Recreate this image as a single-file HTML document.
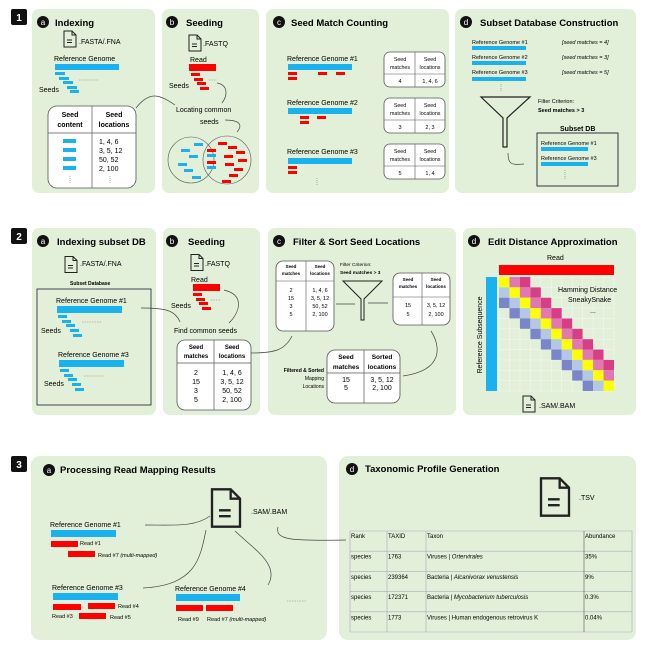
<!DOCTYPE html>
<html><head><meta charset="utf-8"><style>
html,body{margin:0;padding:0;background:#fff}
svg{display:block;font-family:"Liberation Sans",sans-serif}
.t{font-weight:bold;font-size:9.5px}
.s{font-size:7px}
.xs{font-size:5px}
.pn{fill:#e2efd9}
.bl{fill:#1ab2ee}
.rd{fill:#ff0000}
.ln{fill:none;stroke:#444;stroke-width:0.7}
.tb{fill:#fff;stroke:#555;stroke-width:0.8}
</style></head><body>
<svg id="fig" width="646" height="656" viewBox="0 0 646 656">
<defs>
<symbol id="doc" viewBox="0 0 14 18"><path d="M1,1 H9 L13,5 V17 H1 Z M9,1 V5 H13" fill="none" stroke="#222" stroke-width="1"/><path d="M4,10 H9 M4,12.5 H9" stroke="#222" stroke-width="1"/></symbol>
<symbol id="badge" viewBox="0 0 12 12"><circle cx="6" cy="6" r="6" fill="#111"/></symbol>
</defs>

<!-- step labels -->
<g><rect x="11" y="9" width="16" height="16" rx="2" fill="#111"/><text x="19" y="21" fill="#fff" font-size="10" font-weight="bold" text-anchor="middle">1</text></g>
<g><rect x="11" y="228" width="16" height="16" rx="2" fill="#111"/><text x="19" y="240" fill="#fff" font-size="10" font-weight="bold" text-anchor="middle">2</text></g>
<g><rect x="11" y="456" width="16" height="16" rx="2" fill="#111"/><text x="19" y="468" fill="#fff" font-size="10" font-weight="bold" text-anchor="middle">3</text></g>

<!-- panels -->
<rect class="pn" x="32" y="9" width="123" height="184" rx="7"/>
<rect class="pn" x="162" y="9" width="97" height="184" rx="7"/>
<rect class="pn" x="266" y="9" width="183" height="184" rx="7"/>
<rect class="pn" x="455" y="9" width="181" height="184" rx="7"/>
<rect class="pn" x="32" y="228" width="124" height="187" rx="7"/>
<rect class="pn" x="163" y="228" width="97" height="187" rx="7"/>
<rect class="pn" x="268" y="228" width="188" height="187" rx="7"/>
<rect class="pn" x="463" y="228" width="173" height="187" rx="7"/>
<rect class="pn" x="31" y="456" width="296" height="184" rx="9"/>
<rect class="pn" x="339" y="456" width="297" height="184" rx="9"/>

<!-- ===== 1a ===== -->
<circle cx="43" cy="22" r="6" fill="#111"/><text x="43" y="25" fill="#fff" font-size="8" text-anchor="middle">a</text>
<text class="t" x="55" y="26">Indexing</text>
<use href="#doc" x="63" y="30" width="14" height="18"/><text class="s" x="79" y="44">.FASTA/.FNA</text>
<text class="s" x="54" y="61">Reference Genome</text>
<rect class="bl" x="55" y="64" width="64" height="6"/>
<rect class="bl" x="55" y="72" width="10" height="3"/><rect class="bl" x="59" y="77" width="10" height="3"/><rect class="bl" x="63" y="81" width="10" height="3"/><rect class="bl" x="67" y="86" width="10" height="3"/><rect class="bl" x="70" y="90" width="9" height="3"/>
<path d="M79,80 H98" stroke="#888" stroke-width="0.6" stroke-dasharray="1.5,1"/>
<text class="s" x="39" y="92">Seeds</text>
<rect class="tb" x="48" y="106" width="88" height="82" rx="9"/>
<path d="M92,106 V188 M48,133 H136" stroke="#555" stroke-width="0.7"/>
<text class="s" x="70" y="117" text-anchor="middle" font-weight="bold">Seed</text><text class="s" x="70" y="127" text-anchor="middle" font-weight="bold">content</text>
<text class="s" x="114" y="117" text-anchor="middle" font-weight="bold">Seed</text><text class="s" x="114" y="127" text-anchor="middle" font-weight="bold">locations</text>
<rect class="bl" x="63" y="139" width="13" height="4"/><rect class="bl" x="63" y="148" width="13" height="4"/><rect class="bl" x="63" y="157" width="13" height="4"/><rect class="bl" x="63" y="166" width="13" height="4"/>
<text class="s" x="99" y="144">1, 4, 6</text><text class="s" x="99" y="153">3, 5, 12</text><text class="s" x="99" y="162">50, 52</text><text class="s" x="99" y="171">2, 100</text>
<path d="M70,176 V183 M110,176 V183" stroke="#777" stroke-width="0.6" stroke-dasharray="1,1"/>
<path class="ln" d="M136,108 C150,90 160,95 175,105"/>

<!-- ===== 1b ===== -->
<circle cx="172" cy="22" r="6" fill="#111"/><text x="172" y="25" fill="#fff" font-size="8" text-anchor="middle">b</text>
<text class="t" x="186" y="26">Seeding</text>
<use href="#doc" x="188" y="34" width="14" height="18"/><text class="s" x="203" y="46">.FASTQ</text>
<text class="s" x="190" y="62">Read</text>
<rect class="rd" x="189" y="64" width="27" height="7"/>
<rect class="rd" x="191" y="73" width="9" height="3"/><rect class="rd" x="194" y="78" width="9" height="3"/><rect class="rd" x="197" y="82" width="9" height="3"/><rect class="rd" x="200" y="87" width="9" height="3"/>
<path d="M209,80 H217" stroke="#888" stroke-width="0.6" stroke-dasharray="1.5,1"/>
<text class="s" x="169" y="88">Seeds</text>
<path class="ln" d="M217,83 C228,85 228,95 222,103"/>
<text class="s" x="176" y="112">Locating common</text><text class="s" x="200" y="124">seeds</text>
<path class="ln" d="M225,120 C240,120 243,125 237,132"/>
<circle cx="191" cy="160" r="23" fill="none" stroke="#555" stroke-width="0.6"/>
<circle cx="227" cy="160" r="24" fill="none" stroke="#555" stroke-width="0.6"/>
<g class="bl"><rect x="194" y="143" width="9" height="3"/><rect x="181" y="149" width="9" height="3"/><rect x="189" y="155" width="9" height="3"/><rect x="178" y="163" width="9" height="3"/><rect x="184" y="169" width="9" height="3"/><rect x="192" y="176" width="9" height="3"/><rect x="207" y="154" width="9" height="3"/><rect x="207" y="166" width="9" height="3"/></g>
<g class="rd"><rect x="207" y="149" width="9" height="3"/><rect x="207" y="161" width="9" height="3"/><rect x="218" y="142" width="9" height="3"/><rect x="228" y="146" width="9" height="3"/><rect x="236" y="151" width="9" height="3"/><rect x="224" y="155" width="9" height="3"/><rect x="238" y="159" width="9" height="3"/><rect x="225" y="163" width="9" height="3"/><rect x="234" y="168" width="9" height="3"/><rect x="229" y="174" width="9" height="3"/><rect x="222" y="180" width="9" height="3"/></g>

<!-- ===== 1c ===== -->
<circle cx="279" cy="22" r="6" fill="#111"/><text x="279" y="25" fill="#fff" font-size="8" text-anchor="middle">c</text>
<text class="t" x="291" y="26">Seed Match Counting</text>
<text class="s" x="287" y="61">Reference Genome #1</text><rect class="bl" x="288" y="64" width="64" height="6"/>
<g class="rd"><rect x="288" y="72" width="9" height="3"/><rect x="288" y="77" width="9" height="3"/><rect x="318" y="72" width="9" height="3"/><rect x="336" y="72" width="9" height="3"/></g>
<text class="s" x="287" y="105">Reference Genome #2</text><rect class="bl" x="288" y="108" width="64" height="6"/>
<g class="rd"><rect x="300" y="116" width="9" height="3"/><rect x="300" y="121" width="9" height="3"/><rect x="317" y="116" width="9" height="3"/></g>
<text class="s" x="287" y="154">Reference Genome #3</text><rect class="bl" x="288" y="158" width="64" height="6"/>
<g class="rd"><rect x="288" y="166" width="9" height="3"/><rect x="288" y="171" width="9" height="3"/></g>
<path d="M317,178 V186" stroke="#777" stroke-width="0.6" stroke-dasharray="1,1"/>
<g id="c1tables"></g>

<!-- ===== 1d ===== -->
<circle cx="466" cy="22" r="6" fill="#111"/><text x="466" y="25" fill="#fff" font-size="8" text-anchor="middle">d</text>
<text class="t" x="480" y="26">Subset Database Construction</text>
<g font-size="5.5"><text x="472" y="44">Reference Genome #1</text><text x="562" y="44" font-style="italic">[seed matches = 4]</text>
<text x="472" y="59">Reference Genome #2</text><text x="562" y="59" font-style="italic">[seed matches = 3]</text>
<text x="472" y="74">Reference Genome #3</text><text x="562" y="74" font-style="italic">[seed matches = 5]</text></g>
<rect class="bl" x="472" y="46" width="54" height="4"/><rect class="bl" x="472" y="61" width="54" height="4"/><rect class="bl" x="472" y="77" width="54" height="4"/>
<path d="M501,84 V92" stroke="#777" stroke-width="0.6" stroke-dasharray="1,1"/>
<path d="M481,97 H530 L507,118 V147 H503 V118 Z" fill="none" stroke="#222" stroke-width="1.2"/>
<text font-size="5.5" x="538" y="103">Filter Criterion:</text><text font-size="5.5" font-weight="bold" x="538" y="112">Seed matches &gt; 3</text>
<path class="ln" d="M508,153 C508,165 512,165 524,164"/>
<text x="560" y="131" font-size="7" font-weight="bold">Subset DB</text>
<rect x="537" y="133" width="81" height="53" fill="none" stroke="#223" stroke-width="0.9"/>
<text font-size="5.5" x="541" y="145">Reference Genome #1</text><rect class="bl" x="541" y="147" width="47" height="4"/>
<text font-size="5.5" x="541" y="160">Reference Genome #3</text><rect class="bl" x="541" y="162" width="47" height="4"/>
<path d="M565,170 V180" stroke="#777" stroke-width="0.6" stroke-dasharray="1,1"/>

<!-- ===== 2a ===== -->
<circle cx="43" cy="241" r="6" fill="#111"/><text x="43" y="244" fill="#fff" font-size="8" text-anchor="middle">a</text>
<text class="t" x="57" y="245">Indexing subset DB</text>
<use href="#doc" x="64" y="255" width="14" height="19"/><text class="s" x="80" y="266">.FASTA/.FNA</text>
<text class="xs" x="70" y="285" font-weight="bold">Subset Database</text>
<rect x="37" y="289" width="114" height="116" fill="none" stroke="#334" stroke-width="0.9"/>
<text class="s" x="56" y="303">Reference Genome #1</text><rect class="bl" x="57" y="306" width="65" height="7"/>
<g class="bl"><rect x="58" y="315" width="9" height="3"/><rect x="62" y="320" width="9" height="3"/><rect x="66" y="324" width="9" height="3"/><rect x="70" y="329" width="9" height="3"/><rect x="73" y="334" width="9" height="3"/></g>
<path d="M82,322 H101" stroke="#888" stroke-width="0.6" stroke-dasharray="1.5,1"/>
<text class="s" x="41" y="333">Seeds</text>
<text class="s" x="58" y="357">Reference Genome #3</text><rect class="bl" x="59" y="360" width="65" height="7"/>
<g class="bl"><rect x="60" y="369" width="9" height="3"/><rect x="64" y="374" width="9" height="3"/><rect x="68" y="378" width="9" height="3"/><rect x="72" y="383" width="9" height="3"/><rect x="75" y="388" width="9" height="3"/></g>
<path d="M84,376 H103" stroke="#888" stroke-width="0.6" stroke-dasharray="1.5,1"/>
<text class="s" x="44" y="386">Seeds</text>
<path class="ln" d="M141,308 C165,308 175,310 180,322"/>

<!-- ===== 2b ===== -->
<circle cx="172" cy="241" r="6" fill="#111"/><text x="172" y="244" fill="#fff" font-size="8" text-anchor="middle">b</text>
<text class="t" x="188" y="245">Seeding</text>
<use href="#doc" x="190" y="253" width="14" height="19"/><text class="s" x="205" y="266">.FASTQ</text>
<text class="s" x="191" y="282">Read</text><rect class="rd" x="193" y="284" width="27" height="7"/>
<g class="rd"><rect x="193" y="293" width="9" height="3"/><rect x="196" y="298" width="9" height="3"/><rect x="199" y="302" width="9" height="3"/><rect x="202" y="307" width="9" height="3"/></g>
<path d="M211,300 H220" stroke="#888" stroke-width="0.6" stroke-dasharray="1.5,1"/>
<text class="s" x="171" y="308">Seeds</text>
<path class="ln" d="M224,290 C245,295 240,312 229,323"/>
<text class="s" x="174" y="333">Find common seeds</text>
<rect class="tb" x="177" y="340" width="74" height="70" rx="8"/>
<path d="M214,340 V410 M177,363 H251" stroke="#555" stroke-width="0.7"/>
<g font-size="6" font-weight="bold" text-anchor="middle"><text x="196" y="349">Seed</text><text x="196" y="358">matches</text><text x="232" y="349">Seed</text><text x="232" y="358">locations</text></g>
<g class="s" text-anchor="middle"><text x="196" y="375">2</text><text x="196" y="384">15</text><text x="196" y="393">3</text><text x="196" y="402">5</text>
<text x="232" y="375">1, 4, 6</text><text x="232" y="384">3, 5, 12</text><text x="232" y="393">50, 52</text><text x="232" y="402">2, 100</text></g>
<path class="ln" d="M251,353 C275,353 285,350 292,336"/>

<!-- ===== 2c ===== -->
<circle cx="279" cy="241" r="6" fill="#111"/><text x="279" y="244" fill="#fff" font-size="8" text-anchor="middle">c</text>
<text class="t" x="293" y="245">Filter &amp; Sort Seed Locations</text>
<rect class="tb" x="276" y="261" width="58" height="70" rx="7"/>
<path d="M306,261 V331 M276,281 H334" stroke="#555" stroke-width="0.6"/>
<g font-size="4.5" font-weight="bold" text-anchor="middle"><text x="291" y="268">Seed</text><text x="291" y="275">matches</text><text x="320" y="268">Seed</text><text x="320" y="275">locations</text></g>
<g font-size="5.5" text-anchor="middle"><text x="291" y="292">2</text><text x="291" y="300">15</text><text x="291" y="308">3</text><text x="291" y="316">5</text>
<text x="320" y="292">1, 4, 6</text><text x="320" y="300">3, 5, 12</text><text x="320" y="308">50, 52</text><text x="320" y="316">2, 100</text></g>
<text font-size="4.8" x="340" y="266">Filter Criterion:</text><text font-size="4.8" font-weight="bold" x="340" y="274">Seed matches &gt; 3</text>
<path d="M343,281 H382 L364,299 V320 H361 V299 Z" fill="none" stroke="#222" stroke-width="1"/>
<path class="ln" d="M336,304 H355 M368,303 H388"/>
<rect class="tb" x="393" y="273" width="57" height="52" rx="7"/>
<path d="M422,273 V325 M393,297 H450" stroke="#555" stroke-width="0.6"/>
<g font-size="4.5" font-weight="bold" text-anchor="middle"><text x="408" y="281">Seed</text><text x="408" y="288">matches</text><text x="436" y="281">Seed</text><text x="436" y="288">locations</text></g>
<g font-size="5.5" text-anchor="middle"><text x="408" y="307">15</text><text x="408" y="316">5</text><text x="436" y="307">3, 5, 12</text><text x="436" y="316">2, 100</text></g>
<path class="ln" d="M431,331 C440,345 445,370 403,376"/>
<rect class="tb" x="327" y="350" width="73" height="53" rx="8"/>
<path d="M364,350 V403 M327,373 H400" stroke="#555" stroke-width="0.7"/>
<g font-size="6.5" font-weight="bold" text-anchor="middle"><text x="346" y="359">Seed</text><text x="346" y="369">matches</text><text x="382" y="359">Sorted</text><text x="382" y="369">locations</text></g>
<g class="s" text-anchor="middle"><text x="346" y="382">15</text><text x="346" y="390">5</text><text x="382" y="382">3, 5, 12</text><text x="382" y="390">2, 100</text></g>
<g font-size="5" text-anchor="end"><text x="324" y="372" font-weight="bold">Filtered &amp; Sorted</text><text x="324" y="380">Mapping</text><text x="324" y="388">Locations</text></g>

<!-- ===== 2d ===== -->
<circle cx="474" cy="241" r="6" fill="#111"/><text x="474" y="244" fill="#fff" font-size="8" text-anchor="middle">d</text>
<text class="t" x="488" y="245">Edit Distance Approximation</text>
<text class="s" x="547" y="260">Read</text>
<rect class="rd" x="499" y="265" width="115" height="10"/>
<rect class="bl" x="486" y="277" width="11" height="114"/>
<text class="s" transform="translate(482,335) rotate(-90)" text-anchor="middle">Reference Subsequence</text>
<g id="heat"></g>
<text class="s" x="558" y="292">Hamming Distance</text><text class="s" x="568" y="302">SneakySnake</text><text class="s" x="590" y="313">...</text>
<use href="#doc" x="522" y="395" width="14" height="18"/><text class="s" x="539" y="408">.SAM/.BAM</text>

<!-- ===== 3a ===== -->
<circle cx="49" cy="470" r="6" fill="#111"/><text x="49" y="473" fill="#fff" font-size="8" text-anchor="middle">a</text>
<text class="t" x="60" y="473">Processing Read Mapping Results</text>
<use href="#doc" x="209" y="487" width="34" height="42"/><text class="s" x="251" y="514">.SAM/.BAM</text>
<path class="ln" d="M145,525 C175,525 195,527 210,516 M206,530 C200,560 195,585 143,588 M235,531 C255,550 280,565 268,585 M278,527 C275,540 290,541 346,540"/>
<text class="s" x="50" y="527">Reference Genome #1</text><rect class="bl" x="51" y="530" width="65" height="7"/>
<rect class="rd" x="51" y="541" width="27" height="6"/><text font-size="5.5" x="80" y="545">Read #1</text>
<rect class="rd" x="68" y="551" width="27" height="6"/><text font-size="5.5" x="98" y="557">Read #7 <tspan font-style="italic">(multi-mapped)</tspan></text>
<text class="s" x="52" y="590">Reference Genome #3</text><rect class="bl" x="53" y="593" width="65" height="7"/>
<rect class="rd" x="53" y="604" width="28" height="6"/><rect class="rd" x="88" y="603" width="27" height="6"/><text font-size="5.5" x="118" y="608">Read #4</text>
<text font-size="5.5" x="52" y="618">Read #3</text><rect class="rd" x="79" y="613" width="27" height="6"/><text font-size="5.5" x="110" y="619">Read #5</text>
<text class="s" x="175" y="591">Reference Genome #4</text><rect class="bl" x="176" y="594" width="64" height="7"/>
<rect class="rd" x="176" y="605" width="27" height="6"/><rect class="rd" x="206" y="605" width="27" height="6"/>
<text font-size="5.5" x="178" y="621">Read #9</text><text font-size="5.5" x="207" y="621">Read #7 <tspan font-style="italic">(multi-mapped)</tspan></text>
<path d="M287,601 H306" stroke="#888" stroke-width="0.6" stroke-dasharray="1.5,1"/>

<!-- ===== 3d ===== -->
<circle cx="352" cy="469" r="6" fill="#111"/><text x="352" y="472" fill="#fff" font-size="8" text-anchor="middle">d</text>
<text class="t" x="365" y="472">Taxonomic Profile Generation</text>
<use href="#doc" x="538" y="476" width="34" height="42"/><text class="s" x="579" y="500">.TSV</text>
<g id="taxtable"></g>
</svg>
<script>
// ---- heatmap data (edit-distance matrix, diagonal band) ----
var heatRows = 11;
var heatCols = 11;
var bandOffsets = [-2, -1, 0, 1, 2];
var bandColors = ["#7b86c8", "#b4c7e7", "#ffff00", "#e377b0", "#d63f86"];
// ---- taxonomy table data ----
var taxHeaders = ["Rank", "TAXID", "Taxon", "Abundance"];
var taxRank = ["species", "species", "species", "species"];
var taxId = ["1763", "239364", "172371", "1773"];
var taxKingdom = ["Viruses", "Bacteria", "Bacteria", "Viruses"];
var taxName = ["Ortervirales", "Alcanivorax venustensis", "Mycobacterium tuberculosis", "Human endogenous retrovirus K"];
var taxAbundance = ["35%", "9%", "0.3%", "0.04%"];
// ---- seed match tables (1c) ----
var c1Matches = ["4", "3", "5"];
var c1Locations = ["1, 4, 6", "2, 3", "1, 4"];

var NS = "http://www.w3.org/2000/svg";
function mk(tag, attrs, parent) {
  var e = document.createElementNS(NS, tag);
  for (var k in attrs) e.setAttribute(k, attrs[k]);
  parent.appendChild(e);
  return e;
}
// heatmap axes
var hx0 = 499, hy0 = 277, hw = 115, hh = 114;
function hx(c) { return hx0 + c * hw / heatCols; }
function hy(r) { return hy0 + r * hh / heatRows; }
var heat = document.getElementById("heat");
for (var i = 0; i <= heatCols; i++) {
  var gl = mk("line", {x1: hx(i), y1: hy0, x2: hx(i), y2: hy0 + hh, stroke: "#f4f8ef", "stroke-width": 0.6}, heat);
  
  
  var gl2 = mk("line", {x1: hx0, y1: hy(i), x2: hx0 + hw, y2: hy(i), stroke: "#f4f8ef", "stroke-width": 0.6}, heat);
  
  
}
for (var r = 0; r < heatRows; r++) {
  for (var b = 0; b < bandOffsets.length; b++) {
    var c = r + bandOffsets[b];
    if (c < 0 || c >= heatCols) continue;
    var cell = mk("rect", {x: hx(c), y: hy(r), width: hw / heatCols, height: hh / heatRows, fill: bandColors[b]}, heat);
    
    
  }
}
// 1c tables
var c1 = document.getElementById("c1tables");
var c1y = [52, 98, 144];
for (var t = 0; t < c1Matches.length; t++) {
  var y = c1y[t];
  var rr = mk("rect", {x: 384, y: y, width: 61, height: 35, rx: 6, "class": "tb"}, c1);
  
  
  mk("path", {d: "M415," + y + " V" + (y + 35) + " M384," + (y + 22) + " H445", stroke: "#555", "stroke-width": 0.6}, c1);
  var hdr = [["Seed", 400, y + 9], ["matches", 400, y + 17], ["Seed", 430, y + 9], ["locations", 430, y + 17]];
  hdr.forEach(function (h) { var tx = mk("text", {x: h[1], y: h[2], "font-size": 5.3, "text-anchor": "middle"}, c1); tx.textContent = h[0]; });
  var m = mk("text", {x: 400, y: y + 31, "font-size": 5.5, "text-anchor": "middle"}, c1); m.textContent = c1Matches[t];
  var l = mk("text", {x: 430, y: y + 31, "font-size": 5.5, "text-anchor": "middle"}, c1); l.textContent = c1Locations[t];
}
// taxonomy table
var tt = document.getElementById("taxtable");
var colX = [350, 387, 426, 584, 632];
var rowY0 = 531, rowH = 20.2;
function ry(i) { return rowY0 + i * rowH; }
var nrows = taxRank.length + 1;
for (var i = 0; i <= nrows; i++) mk("line", {x1: colX[0], y1: ry(i), x2: colX[4], y2: ry(i), stroke: "#aab", "stroke-width": 0.6}, tt);
for (var j = 0; j < colX.length; j++) mk("line", {x1: colX[j], y1: ry(0), x2: colX[j], y2: ry(nrows), stroke: (j == 3 ? "#555" : "#aab"), "stroke-width": 0.6}, tt);
taxHeaders.forEach(function (h, j) { var tx = mk("text", {x: colX[j] + 1, y: ry(0) + 7, "font-size": 6}, tt); tx.textContent = h; });
for (var i = 0; i < taxRank.length; i++) {
  var yy = ry(i + 1) + 7.5;
  var a = mk("text", {x: colX[0] + 1, y: yy, "font-size": 6}, tt); a.textContent = taxRank[i];
  var b2 = mk("text", {x: colX[1] + 1, y: yy, "font-size": 6}, tt); b2.textContent = taxId[i];
  var cc = mk("text", {x: colX[2] + 1, y: yy, "font-size": 6}, tt);
  cc.textContent = taxKingdom[i] + " | ";
  var sp = mk("tspan", {"font-style": (i == 3 ? "normal" : "italic")}, cc); sp.textContent = taxName[i];
  var d = mk("text", {x: colX[3] + 1, y: yy, "font-size": 6}, tt); d.textContent = taxAbundance[i];
}
</script>
</body></html>
